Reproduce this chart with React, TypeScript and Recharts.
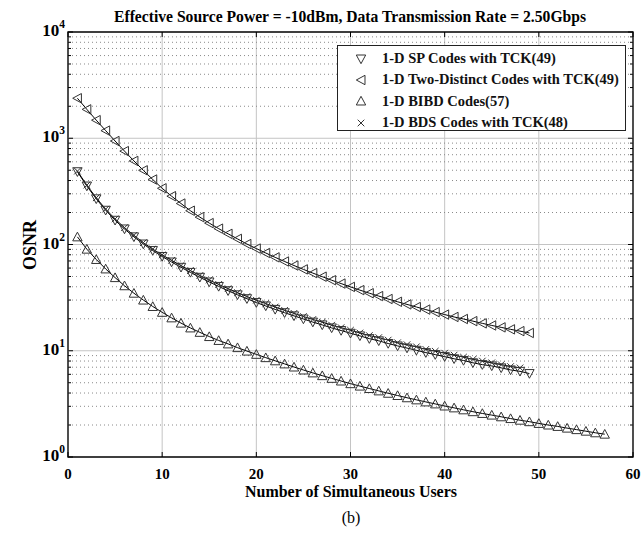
import React from 'react';
import { LineChart, Line, XAxis, YAxis, CartesianGrid, ReferenceLine, ReferenceArea, Legend } from 'recharts';

const users = [1,2,3,4,5,6,7,8,9,10,11,12,13,14,15,16,17,18,19,20,21,22,23,24,25,26,27,28,29,30,31,32,33,34,35,36,37,38,39,40,41,42,43,44,45,46,47,48,49,50,51,52,53,54,55,56,57];

const spCodes = [484,355,269,210,169,140,118,101,87.7,77.1,68.4,61.0,54.6,49.1,44.4,40.3,36.7,33.6,30.9,28.4,26.4,24.5,22.8,21.3,19.9,18.6,17.5,16.4,15.5,14.6,13.8,13.0,12.4,11.7,11.1,10.6,10.1,9.6,9.2,8.8,8.4,8.1,7.7,7.4,7.2,6.9,6.6,6.4,6.1];
const twoDistinct = [2380,1870,1480,1180,942,757,612,499,409,338,285,243,208,181,159,141,126,113,101,91.6,83.2,75.7,69.2,63.4,58.3,53.8,49.8,46.1,42.9,39.9,37.2,34.8,32.7,30.7,28.9,27.3,25.8,24.4,23.1,21.9,20.8,19.9,19.0,18.1,17.3,16.6,15.9,15.3,14.7];
const bibd = [118,90.4,72.3,58.9,48.8,40.9,34.8,30.0,26.1,23.0,20.4,18.2,16.4,14.9,13.6,12.5,11.6,10.7,9.93,9.25,8.61,8.04,7.52,7.03,6.59,6.19,5.83,5.50,5.19,4.90,4.65,4.41,4.19,3.98,3.79,3.61,3.45,3.30,3.16,3.02,2.90,2.78,2.67,2.57,2.48,2.39,2.30,2.22,2.15,2.07,2.00,1.94,1.87,1.81,1.75,1.69,1.64];
const bds = [490,362,275,215,174,144,122,104,90.5,79.8,70.9,63.3,56.8,51.1,46.3,42.1,38.4,35.2,32.4,29.9,27.8,25.8,24.0,22.5,21.0,19.7,18.6,17.4,16.5,15.6,14.7,13.9,13.3,12.6,11.9,11.4,10.9,10.3,9.9,9.5,9.1,8.7,8.3,8.0,7.7,7.4,7.1,6.9];

const xTicks = [0,10,20,30,40,50,60];
const yMajorTicks = [1,10,100,1000,10000];
const yMinorTicks = [2,3,4,5,6,7,8,9,20,30,40,50,60,70,80,90,200,300,400,500,600,700,800,900,2000,3000,4000,5000,6000,7000,8000,9000];

const titleText = 'Effective Source Power = -10dBm, Data Transmission Rate = 2.50Gbps';
const xLabelText = 'Number of Simultaneous Users';
const yLabelText = 'OSNR';
const captionText = '(b)';

const legendItems = [
  { label: '1-D SP Codes with TCK(49)', shape: 'down' },
  { label: '1-D Two-Distinct Codes with TCK(49)', shape: 'left' },
  { label: '1-D BIBD Codes(57)', shape: 'up' },
  { label: '1-D BDS Codes with TCK(48)', shape: 'cross' },
];

const rows = users.map((u, i) => ({
  users: u,
  sp: spCodes[i] ?? null,
  td: twoDistinct[i] ?? null,
  bibd: bibd[i] ?? null,
  bds: bds[i] ?? null,
}));

const W = 643;
const H = 537;
const M = { top: 32, right: 10, left: 0, bottom: 50 };
const YW = 68;
const XH = 30;
const PW = W - M.left - M.right - YW;
const PH = H - M.top - M.bottom - XH;
const SERIF = '"Liberation Serif", "Times New Roman", serif';
const MK = '#333';

function Marker({ shape, cx, cy }: any) {
  if (cx == null || cy == null || isNaN(cx) || isNaN(cy)) return null;
  const s = 4.7;
  if (shape === 'down') {
    return <polygon points={`${cx - s},${cy - s * 0.85} ${cx + s},${cy - s * 0.85} ${cx},${cy + s}`} fill="none" stroke={MK} strokeWidth={1} />;
  }
  if (shape === 'up') {
    return <polygon points={`${cx - s},${cy + s * 0.85} ${cx + s},${cy + s * 0.85} ${cx},${cy - s}`} fill="none" stroke={MK} strokeWidth={1} />;
  }
  if (shape === 'left') {
    return <polygon points={`${cx - s},${cy} ${cx + s * 0.85},${cy - s} ${cx + s * 0.85},${cy + s}`} fill="none" stroke={MK} strokeWidth={1} />;
  }
  const c = 3.3;
  return (
    <g stroke={MK} strokeWidth={1}>
      <line x1={cx - c} y1={cy - c} x2={cx + c} y2={cy + c} />
      <line x1={cx - c} y1={cy + c} x2={cx + c} y2={cy - c} />
    </g>
  );
}

const dotFor = (shape: string) => (props: any) => <Marker key={`${shape}-${props.index}`} shape={shape} cx={props.cx} cy={props.cy} />;

function XTick(props: any) {
  const { x, y, payload } = props;
  return (
    <g>
      <line x1={x} x2={x} y1={y} y2={y - 5} stroke="#000" strokeWidth={1} />
      <line x1={x} x2={x} y1={y - PH} y2={y - PH + 5} stroke="#000" strokeWidth={1} />
      <text x={x} y={y + 22} textAnchor="middle" fontFamily={SERIF} fontWeight="bold" fontSize={15} fill="#000">{payload.value}</text>
    </g>
  );
}

function YTick(props: any) {
  const { x, y, payload } = props;
  const v = payload.value;
  const e = Math.round(Math.log10(v));
  const major = Math.abs(Math.log10(v) - e) < 1e-6;
  const len = major ? 5 : 3;
  return (
    <g>
      <line x1={x} x2={x + len} y1={y} y2={y} stroke="#000" strokeWidth={1} />
      <line x1={x + PW} x2={x + PW - len} y1={y} y2={y} stroke="#000" strokeWidth={1} />
      {major && (
        <text x={x - 3} y={y + 4} textAnchor="end" fontFamily={SERIF} fontWeight="bold" fontSize={17} fill="#000">
          10<tspan dy={-8} fontSize={11.5}>{e}</tspan>
        </text>
      )}
    </g>
  );
}

function LegendBox() {
  return (
    <div style={{ width: 289, height: 86, border: '1.5px solid #222', background: '#fff', boxSizing: 'border-box', paddingTop: 2 }}>
      {legendItems.map((it) => (
        <div key={it.label} style={{ display: 'flex', alignItems: 'center', height: 21.3 }}>
          <svg width={40} height={20} style={{ marginLeft: 4 }}>
            <Marker shape={it.shape} cx={19} cy={10} />
          </svg>
          <span style={{ fontFamily: SERIF, fontWeight: 'bold', fontSize: 14.5, color: '#111', whiteSpace: 'nowrap' }}>{it.label}</span>
        </div>
      ))}
    </div>
  );
}

export default function App() {
  return (
    <div style={{ position: 'absolute', left: 0, top: 0, width: W, height: H, background: '#fff' }}>
      <LineChart width={W} height={H} data={rows} margin={M}>
        <CartesianGrid horizontal={false} vertical={true} stroke="#c4c4c4" strokeWidth={1} />
        {yMinorTicks.map((v) => (
          <ReferenceLine key={`mn${v}`} y={v} stroke="#8a8a8a" strokeWidth={1} strokeDasharray="1 3" />
        ))}
        {yMajorTicks.slice(1, 4).map((v) => (
          <ReferenceLine key={`mj${v}`} y={v} stroke="#c4c4c4" strokeWidth={1} />
        ))}
        <XAxis dataKey="users" type="number" domain={[0, 60]} ticks={xTicks} tick={<XTick />} tickLine={false} axisLine={false} tickSize={0} tickMargin={0} height={XH} interval={0} allowDataOverflow />
        <YAxis type="number" scale="log" domain={[1, 10000]} ticks={[...yMajorTicks, ...yMinorTicks]} tick={<YTick />} tickLine={false} axisLine={false} tickSize={0} tickMargin={0} width={YW} interval={0} allowDataOverflow />
        <ReferenceArea x1={0} x2={60} y1={1} y2={10000} fill="none" stroke="#000" strokeWidth={1.3} ifOverflow="visible" />
        <Line dataKey="bibd" stroke="#000" strokeWidth={1} dot={dotFor('up')} isAnimationActive={false} connectNulls={false} />
        <Line dataKey="td" stroke="#000" strokeWidth={1} dot={dotFor('left')} isAnimationActive={false} connectNulls={false} />
        <Line dataKey="sp" stroke="#000" strokeWidth={1} dot={dotFor('down')} isAnimationActive={false} connectNulls={false} />
        <Line dataKey="bds" stroke="#000" strokeWidth={1} dot={dotFor('cross')} isAnimationActive={false} connectNulls={false} />
        <Legend layout="vertical" align="center" verticalAlign="middle" wrapperStyle={{ left: 337, top: 45, width: 289, height: 86 }} content={() => <LegendBox />} />
      </LineChart>
      <svg width={W} height={H} style={{ position: 'absolute', left: 0, top: 0, pointerEvents: 'none' }}>
        <text x={350} y={22} textAnchor="middle" fontFamily={SERIF} fontWeight="bold" fontSize={17} textLength={472} lengthAdjust="spacingAndGlyphs" fill="#000">{titleText}</text>
        <text x={351} y={497} textAnchor="middle" fontFamily={SERIF} fontWeight="bold" fontSize={16} textLength={212} lengthAdjust="spacingAndGlyphs" fill="#000">{xLabelText}</text>
        <text x={351} y={523} textAnchor="middle" fontFamily={SERIF} fontSize={16} fill="#000">{captionText}</text>
        <text x={36} y={245} textAnchor="middle" fontFamily={SERIF} fontWeight="bold" fontSize={18} fill="#000" transform="rotate(-90 36 245)">{yLabelText}</text>
      </svg>
    </div>
  );
}
